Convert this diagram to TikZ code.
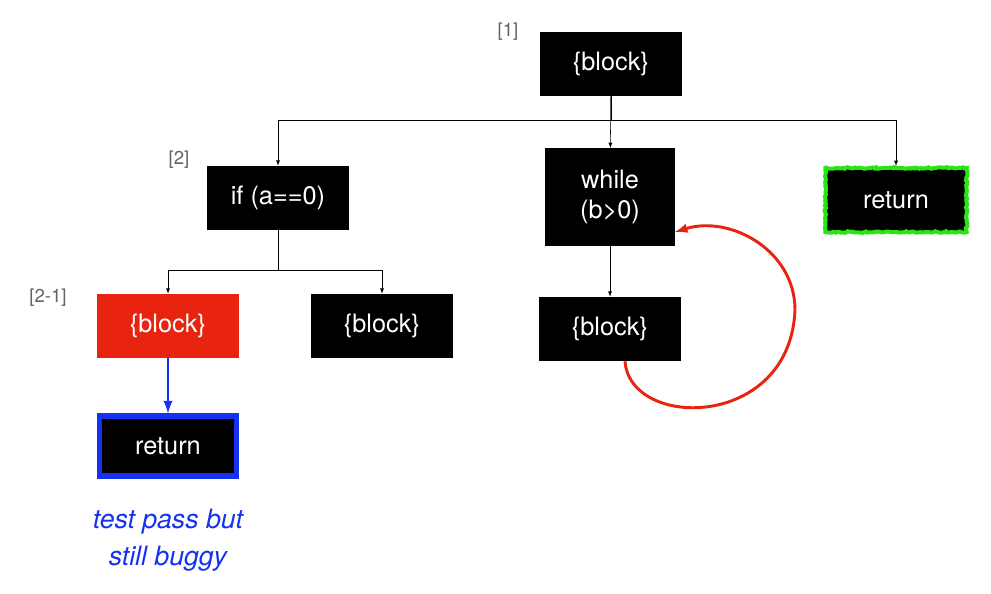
\documentclass[tikz,border=0pt]{standalone}
\usepackage{fontspec}
\setmainfont{TeX Gyre Heros}
\usetikzlibrary{arrows, positioning, calc, decorations.pathmorphing}
\definecolor{errred}{RGB}{232,36,16}
\definecolor{passblue}{RGB}{20,50,240}
\definecolor{okgreen}{RGB}{40,230,20}
\definecolor{tagray}{RGB}{100,100,100}
\tikzset{
  stmt/.style={fill=black,text=white,minimum width=106pt,minimum height=48pt,align=center,font=\fontsize{19}{23}\selectfont,inner sep=0pt},
  tag/.style={text=tagray,font=\fontsize{14}{16}\selectfont}
}
\begin{document}
\begin{tikzpicture}[x=0.75pt,y=-0.75pt]
        \useasboundingbox (0,0) rectangle (991,593);
        \node[stmt] (top) at (611,64) {\{block\}};
        \node[stmt] (cond) at (278,198) {if (a==0)};
        \node[stmt,minimum width=97pt,minimum height=73pt] (loop) at (610,197) {while\\(b>0)};
        \node[stmt,draw=okgreen,line width=3pt,decorate,decoration={random steps,segment length=1.5pt,amplitude=0.6pt}] (ret) at (896,200) {return};
        \node[stmt,fill=errred] (thenb) at (168,326) {\{block\}};
        \node[stmt] (elseb) at (382,326) {\{block\}};
        \node[stmt] (body) at (610,329) {\{block\}};
        \node[stmt,draw=passblue,line width=4pt,minimum width=103pt,minimum height=45pt] (ret2) at (168,446) {return};
        \node[text=passblue,align=center,font=\fontsize{20}{28}\itshape\selectfont] (note) at (168,540) {test pass but\\still buggy};
        \node[tag] (t1) at (508,32) {[1]};
        \node[tag] (t2) at (179,160) {[2]};
        \node[tag] (t21) at (48,298) {[2-1]};
        \coordinate (fork1) at (611,120);
        \coordinate (fork2) at (278,270);
        \coordinate (back) at ($(loop.east)+(0,35)$);
        \draw[->,>=latex] (top) -- (loop);
        \draw[->,>=latex] (top) -- (fork1) -| (cond);
        \draw[->,>=latex] (fork1) -| (ret);
        \draw[->,>=latex] (loop) -- (body);
        \draw[->,>=latex] (cond) -- (fork2) -| (thenb);
        \draw[->,>=latex] (fork2) -| (elseb);
        \draw[->,>=latex,passblue,line width=2.2pt] (thenb) -- (ret2);
        \draw[->,>=latex,errred,line width=2.2pt] ($(body.south)+(15,0)$) .. controls (630,430) and (790,430) .. (795,310) .. controls (795,250) and (730,215) .. (back);
        \end{tikzpicture}
\end{document}
